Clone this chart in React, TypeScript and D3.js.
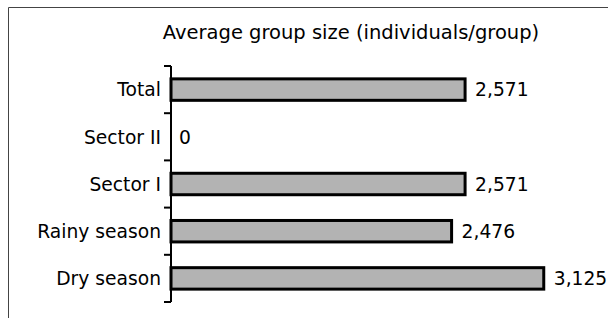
import React from "react";
import * as d3 from "d3";

const categories = ["Total", "Sector II", "Sector I", "Rainy season", "Dry season"];
const values = [2.571, 0, 2.571, 2.476, 3.125];
const valueLabels = ["2,571", "0", "2,571", "2,476", "3,125"];
const title = "Average group size (individuals/group)";
const xDomain = [0.5, 3.5];

const W = 608;
const H = 318;
const FONT = "'DejaVu Sans', sans-serif";

export default function App() {
  const x = d3.scaleLinear().domain(xDomain).range([171, 597]);
  const y = d3.scaleBand().domain(categories).range([66, 302]).paddingInner(120 / 220).paddingOuter(60 / 220);
  const band = (302 - 66) / categories.length;
  const x0 = x(xDomain[0]);
  return (
    <svg width={W} height={H} style={{ position: "absolute", left: 0, top: 0 }}>
      <rect x={0} y={0} width={W} height={H} fill="#fff" />
      <path d={`M8.5,${H} V7.5 H${W}`} fill="none" stroke="#444" strokeWidth={1} />
      <text x={351} y={39} textAnchor="middle" fontFamily={FONT} fontSize={19.5} fill="#000">
        {title}
      </text>
      {categories.map((c, i) => {
        const v = values[i];
        const yy = y(c)!;
        const bw = y.bandwidth();
        const xe = Math.max(x(v), x0);
        return (
          <g key={c}>
            {v > xDomain[0] && (
              <rect x={x0} y={yy} width={xe - x0} height={bw} fill="#b3b3b3" stroke="#000" strokeWidth={3} />
            )}
            <text x={161} y={yy + bw / 2} dy="0.36em" textAnchor="end" fontFamily={FONT} fontSize={18.7} fill="#000">
              {c}
            </text>
            <text x={xe + (v > xDomain[0] ? 10 : 8)} y={yy + bw / 2} dy="0.36em" fontFamily={FONT} fontSize={18.7} fill="#000">
              {valueLabels[i]}
            </text>
          </g>
        );
      })}
      <line x1={x0} x2={x0} y1={66} y2={302} stroke="#000" strokeWidth={2} />
      {d3.range(categories.length + 1).map((k) => (
        <line key={k} x1={x0 - 7} x2={x0} y1={66 + k * band} y2={66 + k * band} stroke="#000" strokeWidth={2} />
      ))}
    </svg>
  );
}
